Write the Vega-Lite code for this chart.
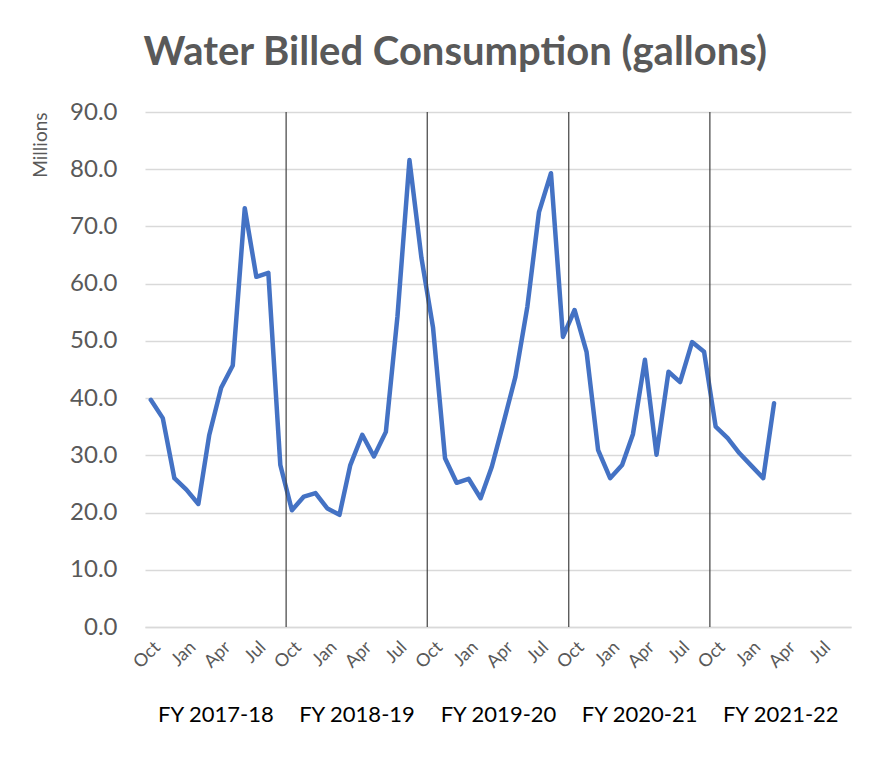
{
  "$schema": "https://vega.github.io/schema/vega-lite/v6.json",
  "width": 706,
  "height": 515,
  "padding": {"left": 31, "top": 33, "right": 10, "bottom": 10},
  "background": "white",
  "title": {"text": "Water Billed Consumption (gallons)", "fontSize": 40, "font": "Lato", "fontWeight": "bold", "color": "#595959", "offset": 27, "anchor": "middle", "frame": "bounds", "dx": 14},
  "config": {"view": {"stroke": null}, "font": "Lato"},
  "layer": [
    {
      "data": {"values": [
        {"month": "2017-10-01", "gallons_millions": 39.7},
        {"month": "2017-11-01", "gallons_millions": 36.5},
        {"month": "2017-12-01", "gallons_millions": 26.0},
        {"month": "2018-01-01", "gallons_millions": 24.0},
        {"month": "2018-02-01", "gallons_millions": 21.5},
        {"month": "2018-03-01", "gallons_millions": 33.5},
        {"month": "2018-04-01", "gallons_millions": 41.8},
        {"month": "2018-05-01", "gallons_millions": 45.7},
        {"month": "2018-06-01", "gallons_millions": 73.2},
        {"month": "2018-07-01", "gallons_millions": 61.2},
        {"month": "2018-08-01", "gallons_millions": 61.9},
        {"month": "2018-09-01", "gallons_millions": 28.3},
        {"month": "2018-10-01", "gallons_millions": 20.4},
        {"month": "2018-11-01", "gallons_millions": 22.8},
        {"month": "2018-12-01", "gallons_millions": 23.4},
        {"month": "2019-01-01", "gallons_millions": 20.7},
        {"month": "2019-02-01", "gallons_millions": 19.6},
        {"month": "2019-03-01", "gallons_millions": 28.3},
        {"month": "2019-04-01", "gallons_millions": 33.6},
        {"month": "2019-05-01", "gallons_millions": 29.8},
        {"month": "2019-06-01", "gallons_millions": 34.1},
        {"month": "2019-07-01", "gallons_millions": 54.3},
        {"month": "2019-08-01", "gallons_millions": 81.6},
        {"month": "2019-09-01", "gallons_millions": 64.5},
        {"month": "2019-10-01", "gallons_millions": 52.3},
        {"month": "2019-11-01", "gallons_millions": 29.5},
        {"month": "2019-12-01", "gallons_millions": 25.2},
        {"month": "2020-01-01", "gallons_millions": 25.9},
        {"month": "2020-02-01", "gallons_millions": 22.5},
        {"month": "2020-03-01", "gallons_millions": 28.0},
        {"month": "2020-04-01", "gallons_millions": 35.9},
        {"month": "2020-05-01", "gallons_millions": 43.7},
        {"month": "2020-06-01", "gallons_millions": 56.0},
        {"month": "2020-07-01", "gallons_millions": 72.5},
        {"month": "2020-08-01", "gallons_millions": 79.3},
        {"month": "2020-09-01", "gallons_millions": 50.7},
        {"month": "2020-10-01", "gallons_millions": 55.4},
        {"month": "2020-11-01", "gallons_millions": 48.1},
        {"month": "2020-12-01", "gallons_millions": 30.9},
        {"month": "2021-01-01", "gallons_millions": 26.0},
        {"month": "2021-02-01", "gallons_millions": 28.3},
        {"month": "2021-03-01", "gallons_millions": 33.7},
        {"month": "2021-04-01", "gallons_millions": 46.7},
        {"month": "2021-05-01", "gallons_millions": 30.1},
        {"month": "2021-06-01", "gallons_millions": 44.6},
        {"month": "2021-07-01", "gallons_millions": 42.8},
        {"month": "2021-08-01", "gallons_millions": 49.8},
        {"month": "2021-09-01", "gallons_millions": 48.1},
        {"month": "2021-10-01", "gallons_millions": 35.0},
        {"month": "2021-11-01", "gallons_millions": 33.0},
        {"month": "2021-12-01", "gallons_millions": 30.4},
        {"month": "2022-01-01", "gallons_millions": 28.2},
        {"month": "2022-02-01", "gallons_millions": 26.0},
        {"month": "2022-03-01", "gallons_millions": 39.1}
      ]},
      "mark": {"type": "line", "color": "#4472C4", "strokeWidth": 4.5, "strokeJoin": "round", "strokeCap": "round"},
      "encoding": {
        "x": {
          "field": "month", "type": "temporal",
          "scale": {"type": "utc", "nice": false, "domain": [{"year": 2017, "month": 9, "date": 16, "utc": true}, {"year": 2022, "month": 9, "date": 16, "utc": true}]},
          "axis": {"title": null, "tickCount": {"interval": "month", "step": 3}, "labelExpr": "utcFormat(datum.value, '%b')", "labelAngle": -45, "labelFontSize": 18, "labelColor": "#595959", "labelPadding": 11, "ticks": false, "domain": true, "domainColor": "#d9d9d9", "domainWidth": 1.5, "grid": false, "labelOverlap": false, "labelFlush": false}
        },
        "y": {
          "field": "gallons_millions", "type": "quantitative",
          "scale": {"domain": [0, 90], "nice": false},
          "axis": {"title": "Millions", "values": [0, 10, 20, 30, 40, 50, 60, 70, 80, 90], "format": ".1f", "labelFontSize": 24, "labelColor": "#595959", "labelPadding": 28, "ticks": false, "domain": false, "gridColor": "#d9d9d9", "gridWidth": 1.5, "titleFontSize": 19, "titleFontWeight": "normal", "titleColor": "#595959", "titleAnchor": "end", "titlePadding": 19}
        }
      }
    },
    {
      "data": {"values": [
        {"fy_boundary": "2018-09-16"},
        {"fy_boundary": "2019-09-16"},
        {"fy_boundary": "2020-09-16"},
        {"fy_boundary": "2021-09-16"}
      ]},
      "mark": {"type": "rule", "color": "#404040", "strokeWidth": 1.2},
      "encoding": {
        "x": {
          "field": "fy_boundary", "type": "temporal",
          "scale": {"type": "utc", "nice": false, "domain": [{"year": 2017, "month": 9, "date": 16, "utc": true}, {"year": 2022, "month": 9, "date": 16, "utc": true}]},
          "axis": {"orient": "bottom", "title": null, "values": [{"year": 2018, "month": 3, "date": 17, "utc": true}, {"year": 2019, "month": 3, "date": 17, "utc": true}, {"year": 2020, "month": 3, "date": 17, "utc": true}, {"year": 2021, "month": 3, "date": 17, "utc": true}, {"year": 2022, "month": 3, "date": 17, "utc": true}], "labelExpr": "'FY ' + (utcyear(datum.value) - 1) + '-' + (utcyear(datum.value) % 100)", "labelFontSize": 22, "labelColor": "#000000", "labelAngle": 0, "labelBaseline": "top", "domain": false, "ticks": false, "grid": false, "offset": 71, "labelPadding": 6, "labelOverlap": false, "labelFlush": false}
        }
      }
    }
  ],
  "resolve": {"axis": {"x": "independent"}}
}
